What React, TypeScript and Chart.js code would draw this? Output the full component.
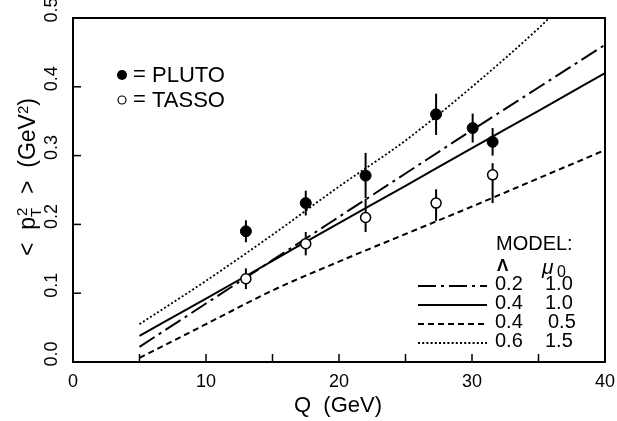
import React, { useEffect, useRef } from "react";
import { Chart, registerables } from "chart.js";

Chart.register(...registerables);

// ---- data ----
const plutoQ = [13.0, 17.5, 22.0, 27.3, 30.05, 31.55];
const plutoPt2 = [0.19, 0.231, 0.271, 0.36, 0.34, 0.32];
const plutoErr = [0.016, 0.018, 0.033, 0.03, 0.021, 0.02];

const tassoQ = [13.0, 17.5, 22.0, 27.3, 31.55];
const tassoPt2 = [0.121, 0.172, 0.21, 0.231, 0.272];
const tassoErrUp = [0.015, 0.017, 0.027, 0.02, 0.017];
const tassoErrDown = [0.015, 0.017, 0.021, 0.026, 0.041];

const modelQ = [5, 10, 15, 20, 25, 30, 35, 40];
const model02_10 = [0.022, 0.085, 0.148, 0.211, 0.274, 0.337, 0.399, 0.461];
const model04_10 = [0.038, 0.092, 0.147, 0.202, 0.256, 0.311, 0.365, 0.42];
const model04_05 = [0.006, 0.055, 0.104, 0.146, 0.186, 0.226, 0.267, 0.308];
const model06_15Q = [5, 10, 15, 20, 25, 30, 35, 35.8];
const model06_15 = [0.055, 0.118, 0.185, 0.255, 0.322, 0.4, 0.485, 0.5];

const xTickMarks = [5, 10, 15, 20, 25, 30, 35];
const xTickLabels = [0, 10, 20, 30, 40];
const yTickMarks = [0.1, 0.2, 0.3, 0.4];
const yTickLabels = ["0.0", "0.1", "0.2", "0.3", "0.4", "0.5"];

const DOT = [2, 2.2];
const modelLegend = [
  { lam: "0.2", mu: "1.0", dash: [18, 5, 3, 5], width: 2 },
  { lam: "0.4", mu: "1.0", dash: [], width: 2 },
  { lam: "0.4", mu: "0.5", dash: [6, 4], width: 2 },
  { lam: "0.6", mu: "1.5", dash: DOT, width: 1.8 },
];

const FONT = "'Liberation Sans', Arial, Helvetica, sans-serif";

const pts = (xs: number[], ys: number[]) => xs.map((x, i) => ({ x, y: ys[i] }));

const decor = {
  id: "decor",
  beforeDatasetsDraw(chart: any) {
    const ctx = chart.ctx;
    const xs = chart.scales.x;
    const ys = chart.scales.y;
    ctx.save();
    ctx.strokeStyle = "#000";
    ctx.lineWidth = 2;
    plutoQ.forEach((q, i) => {
      const px = xs.getPixelForValue(q);
      ctx.beginPath();
      ctx.moveTo(px, ys.getPixelForValue(plutoPt2[i] + plutoErr[i]));
      ctx.lineTo(px, ys.getPixelForValue(plutoPt2[i] - plutoErr[i]));
      ctx.stroke();
    });
    tassoQ.forEach((q, i) => {
      const px = xs.getPixelForValue(q);
      ctx.beginPath();
      ctx.moveTo(px, ys.getPixelForValue(tassoPt2[i] + tassoErrUp[i]));
      ctx.lineTo(px, ys.getPixelForValue(tassoPt2[i] - tassoErrDown[i]));
      ctx.stroke();
    });
    ctx.restore();
  },
  afterDraw(chart: any) {
    const ctx = chart.ctx;
    const a = chart.chartArea;
    const xs = chart.scales.x;
    const ys = chart.scales.y;
    ctx.save();
    ctx.strokeStyle = "#000";
    ctx.fillStyle = "#000";
    ctx.setLineDash([]);
    // frame
    ctx.lineWidth = 2;
    ctx.strokeRect(a.left, a.top, a.right - a.left, a.bottom - a.top);
    // inward ticks
    ctx.lineWidth = 1.5;
    xTickMarks.forEach((v) => {
      const px = xs.getPixelForValue(v);
      ctx.beginPath();
      ctx.moveTo(px, a.bottom);
      ctx.lineTo(px, a.bottom - 8);
      ctx.stroke();
    });
    yTickMarks.forEach((v) => {
      const py = ys.getPixelForValue(v);
      ctx.beginPath();
      ctx.moveTo(a.left, py);
      ctx.lineTo(a.left + 8, py);
      ctx.stroke();
    });
    // x tick labels
    ctx.font = `18px ${FONT}`;
    ctx.textAlign = "center";
    ctx.textBaseline = "middle";
    xTickLabels.forEach((v) => {
      ctx.fillText(String(v), xs.getPixelForValue(v), a.bottom + 20);
    });
    // y tick labels (rotated)
    ctx.font = `18px ${FONT}`;
    yTickLabels.forEach((t) => {
      const py = ys.getPixelForValue(parseFloat(t)) - 8;
      ctx.save();
      ctx.translate(52, py);
      ctx.rotate(-Math.PI / 2);
      ctx.textAlign = "center";
      ctx.textBaseline = "middle";
      ctx.fillText(t, 0, 0);
      ctx.restore();
    });
    // x title
    ctx.font = `22px ${FONT}`;
    ctx.textAlign = "center";
    ctx.textBaseline = "middle";
    ctx.fillText("Q  (GeV)", 338, 406);
    // y title
    ctx.save();
    ctx.translate(27, 177);
    ctx.rotate(-Math.PI / 2);
    ctx.textAlign = "left";
    ctx.textBaseline = "alphabetic";
    const big = `23px ${FONT}`;
    const small = `15px ${FONT}`;
    const segs: any[] = [
      { t: "<  p", f: big, dy: 8 },
      { t: "T", f: small, dy: 14, sup: "2" },
      { t: "  >  (GeV", f: big, dy: 8 },
      { t: "2", f: small, dy: 1 },
      { t: ")", f: big, dy: 8 },
    ];
    let total = 0;
    segs.forEach((s) => {
      ctx.font = s.f;
      s.w = ctx.measureText(s.t).width + (s.sup ? 1 : 0);
      if (s.sup) s.w = Math.max(s.w, ctx.measureText(s.sup).width + 1);
      total += s.w;
    });
    let cx = -total / 2;
    segs.forEach((s) => {
      ctx.font = s.f;
      ctx.fillText(s.t, cx, s.dy);
      if (s.sup) ctx.fillText(s.sup, cx + 1, 0);
      cx += s.w;
    });
    ctx.restore();
    // top-left legend
    ctx.beginPath();
    ctx.arc(122, 75, 5, 0, Math.PI * 2);
    ctx.fill();
    ctx.beginPath();
    ctx.lineWidth = 1.2;
    ctx.arc(122, 100, 4, 0, Math.PI * 2);
    ctx.stroke();
    ctx.font = `22px ${FONT}`;
    ctx.textAlign = "left";
    ctx.textBaseline = "middle";
    ctx.fillText("=", 133, 75);
    ctx.fillText("PLUTO", 152, 76);
    ctx.fillText("=", 133, 100);
    ctx.fillText("TASSO", 152, 101);
    // model legend
    ctx.font = `20px ${FONT}`;
    ctx.fillText("MODEL:", 496, 244);
    ctx.font = `bold 17px ${FONT}`;
    ctx.fillText("\u039B", 497, 266);
    ctx.font = `italic 21px ${FONT}`;
    ctx.fillText("\u03BC", 542, 268);
    ctx.font = `16px ${FONT}`;
    ctx.fillText("0", 557, 273);
    const rowY = [284, 303.5, 322.5, 341.5];
    const lineY = [286, 305, 324, 343];
    modelLegend.forEach((m, i) => {
      ctx.font = `20px ${FONT}`;
      ctx.fillText(m.lam, 495, rowY[i]);
      ctx.fillText(m.mu, m.mu === "0.5" ? 548 : 545, rowY[i]);
      ctx.save();
      ctx.lineWidth = m.width;
      ctx.setLineDash(m.dash);
      ctx.beginPath();
      ctx.moveTo(418, lineY[i]);
      ctx.lineTo(487, lineY[i]);
      ctx.stroke();
      ctx.restore();
    });
    ctx.restore();
  },
};

export default function App() {
  const ref = useRef<HTMLCanvasElement | null>(null);
  useEffect(() => {
    if (!ref.current) return;
    const lineDs = (label: string, xs: number[], ys: number[], dash: number[], w: number) => ({
      type: "line" as const,
      label,
      data: pts(xs, ys),
      showLine: true,
      borderColor: "#000",
      borderWidth: w,
      borderDash: dash,
      pointRadius: 0,
      fill: false,
      cubicInterpolationMode: "monotone" as const,
    });
    const chart = new Chart(ref.current, {
      type: "scatter",
      data: {
        datasets: [
          {
            label: "PLUTO",
            data: pts(plutoQ, plutoPt2),
            pointRadius: 5.5,
            pointBackgroundColor: "#000",
            pointBorderColor: "#000",
            borderWidth: 1,
          },
          {
            label: "TASSO",
            data: pts(tassoQ, tassoPt2),
            pointRadius: 5,
            pointBackgroundColor: "#fff",
            pointBorderColor: "#000",
            pointBorderWidth: 1.5,
          },
          lineDs("Λ=0.2 μ0=1.0", modelQ, model02_10, [18, 5, 3, 5], 2),
          lineDs("Λ=0.4 μ0=1.0", modelQ, model04_10, [], 2),
          lineDs("Λ=0.4 μ0=0.5", modelQ, model04_05, [6, 4], 2),
          lineDs("Λ=0.6 μ0=1.5", model06_15Q, model06_15, DOT, 1.8),
        ] as any,
      },
      options: {
        animation: false,
        responsive: false,
        devicePixelRatio: 1,
        layout: { padding: { left: 73, right: 12, top: 18, bottom: 59 } },
        plugins: { legend: { display: false }, tooltip: { enabled: false } },
        scales: {
          x: { type: "linear", min: 0, max: 40, display: false },
          y: { type: "linear", min: 0, max: 0.5, display: false },
        },
      },
      plugins: [decor],
    });
    return () => chart.destroy();
  }, []);
  return (
    <div style={{ position: "fixed", left: 0, top: 0, width: 617, height: 421, background: "#fff" }}>
      <canvas ref={ref} width={617} height={421} />
    </div>
  );
}
